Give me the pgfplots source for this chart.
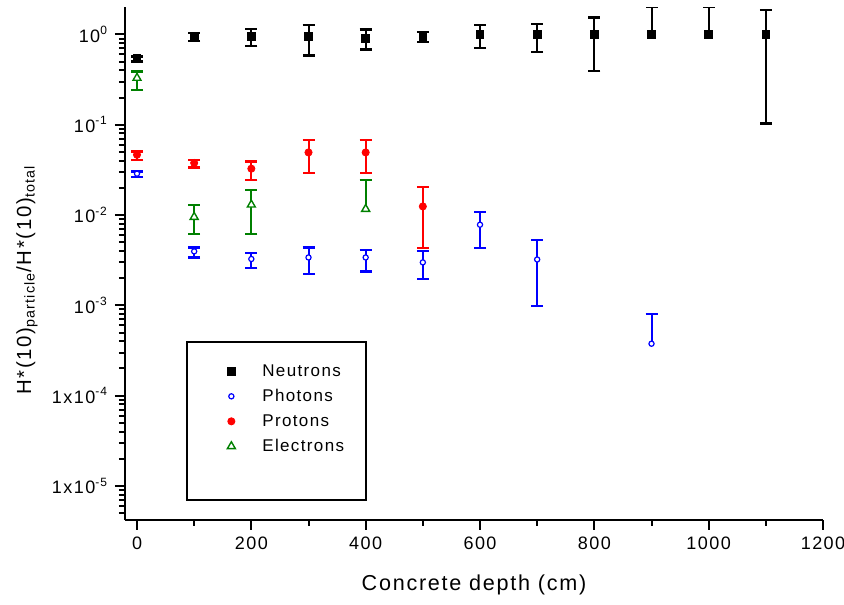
\documentclass[border=0pt]{standalone}
\usepackage{fontspec}
\setmainfont{Liberation Sans}[LetterSpace=8]
\usepackage{pgfplots}
\pgfplotsset{compat=1.18}

\pgfplotsset{
  ebar/.style={error bars/.cd, y dir=#1, y explicit,
    error bar style={line width=1pt},
    error mark options={rotate=90, line width=1.1pt, mark size=3pt}, /pgfplots/.cd},
}

\begin{document}
\begin{tikzpicture}
\begin{axis}[
    name=ax,
    scale only axis,
    width=349pt, height=256.5pt,
    xmin=-21, xmax=1200,
    ymode=log, ymin=4.2e-6, ymax=2.01,
    axis lines*=left,
    axis line style={line width=1pt},
    tick align=outside,
    major tick length=5pt, minor tick length=3pt,
    every tick/.style={black, line width=1pt},
    xtick={0,200,400,600,800,1000,1200},
    xticklabels={0,200,400,600,800,1000,1200},
    minor xtick={100,300,500,700,900,1100},
    ytick={1e-5,1e-4,1e-3,1e-2,1e-1,1},
    yticklabels={1x10\textsuperscript{-5},1x10\textsuperscript{-4},10\textsuperscript{-3},10\textsuperscript{-2},10\textsuperscript{-1},10\textsuperscript{0}},
    minor ytick={5e-6,6e-6,7e-6,8e-6,9e-6,
      2e-5,3e-5,4e-5,5e-5,6e-5,7e-5,8e-5,9e-5,
      2e-4,3e-4,4e-4,5e-4,6e-4,7e-4,8e-4,9e-4,
      2e-3,3e-3,4e-3,5e-3,6e-3,7e-3,8e-3,9e-3,
      2e-2,3e-2,4e-2,5e-2,6e-2,7e-2,8e-2,9e-2,
      0.2,0.3,0.4,0.5,0.6,0.7,0.8,0.9},
    tick label style={font=\fontsize{9}{10}\selectfont},
    xlabel={Concrete depth (cm)},
    ylabel={H*(10)\textsubscript{particle}/H*(10)\textsubscript{total}},
    xlabel style={font=\fontsize{10.8}{12}\selectfont, at={(axis description cs:0.5,-0.127)}, anchor=center},
    ylabel style={font=\fontsize{10.2}{12}\selectfont, at={(axis description cs:-0.1404,0.468)}, anchor=center},
    legend style={at={(axis description cs:0.1375,0.314)}, anchor=north west,
      draw=none, fill=none, font=\fontsize{8.5}{10}\selectfont,
      nodes={inner ysep=0pt, text height=6.5pt, text depth=1.5pt},
      row sep=4.5pt,
      /tikz/every odd column/.append style={column sep=11.5pt}},
    legend cell align=left,
]
% Neutrons
\addplot[black, only marks, mark=square*, mark size=1.9pt, ebar=both]
  table[x=x, y=y, y error plus=ep, y error minus=em] {
  x    y     ep     em
  0    0.54  0.03   0.04
  100  0.94  0.10   0.10
  200  0.95  0.20   0.20
  300  0.95  0.31   0.365
  400  0.90  0.235  0.22
  500  0.95  0.12   0.12
  600  1.00  0.26   0.29
  700  1.00  0.31   0.36
  800  1.00  0.54   0.61
  1100 1.00  0.877  0.897
};
\addlegendentry{Neutrons}
\addplot[black, only marks, mark=square*, mark size=1.9pt, ebar=plus, forget plot]
  table[x=x, y=y, y error=ep] {
  x    y     ep
  900  1.00  0.99
  1000 1.00  0.99
};
% Photons
\addplot[blue, only marks, mark=*, mark size=1.3pt, mark options={fill=white, line width=0.6pt}, ebar=both]
  table[x=x, y=y, y error plus=ep, y error minus=em] {
  x    y        ep       em
  0    0.0287   0.0017   0.0026
  100  0.00396  0.00042  0.00057
  200  0.00326  0.0005   0.00065
  300  0.00339  0.00099  0.00115
  400  0.00339  0.00074  0.00102
  500  0.00299  0.00097  0.00104
  600  0.00781  0.0031   0.00347
  700  0.00322  0.0021   0.00223
};
\addlegendentry{Photons}
\addplot[blue, only marks, mark=*, mark size=1.3pt, mark options={fill=white, line width=0.6pt}, ebar=plus, forget plot]
  table[x=x, y=y, y error=ep] {
  x    y         ep
  900  0.000376  0.00043
};
% Protons
\addplot[red, only marks, mark=*, mark size=1.8pt, ebar=both]
  table[x=x, y=y, y error plus=ep, y error minus=em] {
  x    y        ep      em
  0    0.0465   0.0041  0.0056
  100  0.0377   0.0032  0.0041
  200  0.0326   0.0066  0.008
  300  0.0493   0.0189  0.0204
  400  0.0493   0.0189  0.0204
  500  0.01245  0.0078  0.0081
};
\addlegendentry{Protons}
% Electrons
\addplot[black!50!green, only marks, mark=triangle*, mark size=2.3pt, mark options={fill=white, line width=0.7pt}, ebar=both]
  table[x=x, y=y, y error plus=ep, y error minus=em] {
  x    y       ep      em
  0    0.329   0.06    0.085
  100  0.0095  0.0033  0.0033
  200  0.0130  0.0061  0.0068
};
\addlegendentry{Electrons}
\addplot[black!50!green, only marks, mark=triangle*, mark size=2.3pt, mark options={fill=white, line width=0.7pt}, ebar=plus, forget plot]
  table[x=x, y=y, y error=ep] {
  x    y        ep
  400  0.01165  0.0129
};
\draw[line width=1pt] (axis description cs:0.0884,0.039) rectangle (axis description cs:0.3448,0.347);
\end{axis}
\pgfresetboundingbox
\path[use as bounding box] ([xshift=-62.5pt,yshift=-42pt]ax.south west) rectangle ([xshift=10.5pt,yshift=3.5pt]ax.north east);
\end{tikzpicture}
\end{document}
